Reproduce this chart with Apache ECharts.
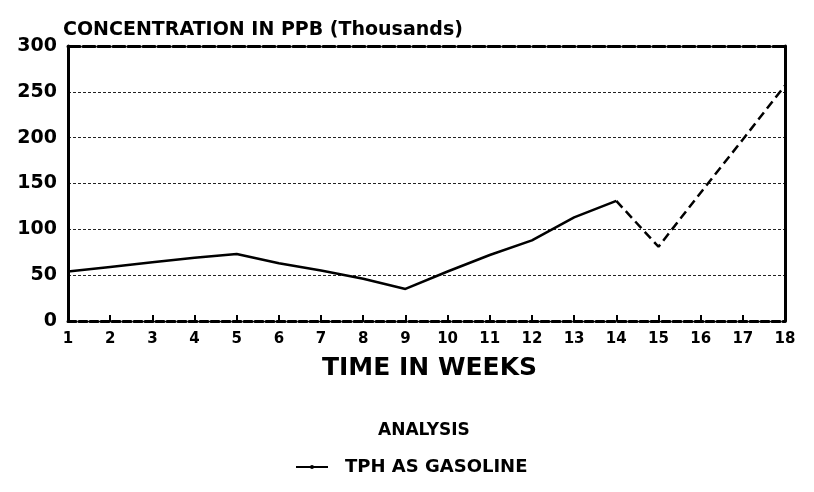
<!DOCTYPE html>
<html>
<head>
<meta charset="utf-8">
<script src="https://cdn.jsdelivr.net/npm/echarts@6/dist/echarts.min.js"></script>
<style>html,body{margin:0;padding:0;background:#fff;}#c{width:814px;height:492px;}</style>
</head>
<body>
<div id="c"></div>
<script>
var weeks = [1,2,3,4,5,6,7,8,9,10,11,12,13,14,15,16,17,18];
var tphValues = [54,59,64,69,73,63,55,46,35,54,72,88,113,131,81,140,198,257];
var yTicks = [0,50,100,150,200,250,300];
var seriesName = 'TPH AS GASOLINE';
var solidEndWeek = 14;

var solidData = [], dashedData = [];
weeks.forEach(function(w, i){
  if (w <= solidEndWeek) solidData.push([w, tphValues[i]]);
  if (w >= solidEndWeek) dashedData.push([w, tphValues[i]]);
});

var FONT = '"DejaVu Sans", "Liberation Sans", Arial, sans-serif';
var chart = echarts.init(document.getElementById('c'), null, {renderer:'canvas'});
chart.setOption({
  backgroundColor: '#fff',
  animation: false,
  grid: {left: 68, right: 29, top: 46, bottom: 171, containLabel: false},
  title: [
    {text: 'CONCENTRATION IN PPB (Thousands)', left: 63, top: 21, padding: 0,
     textStyle: {fontFamily: FONT, fontWeight: 'bold', fontSize: 19, color: '#000'}},
    {text: 'TIME IN WEEKS', left: 322, top: 356, padding: 0,
     textStyle: {fontFamily: FONT, fontWeight: 'bold', fontSize: 25, color: '#000'}},
    {text: 'ANALYSIS', left: 378, top: 422, padding: 0,
     textStyle: {fontFamily: FONT, fontWeight: 'bold', fontSize: 17, color: '#000'}}
  ],
  legend: {
    top: 458, left: 295, padding: 0,
    itemWidth: 32, itemHeight: 5,
    data: [seriesName],
    textStyle: {fontFamily: FONT, fontWeight: 'bold', fontSize: 18, color: '#000', padding: [0,0,0,12]}
  },
  xAxis: [
    {type: 'value', min: 1, max: 18, interval: 1, position: 'bottom',
     axisLine: {show: true, onZero: false, lineStyle: {color: '#000', width: 3, type: [8, 3]}},
     axisTick: {show: true, inside: true, length: 6, lineStyle: {color: '#000', width: 2}},
     axisLabel: {fontFamily: FONT, fontWeight: 'bold', fontSize: 15, color: '#000', margin: 11},
     splitLine: {show: false}},
    {type: 'value', min: 1, max: 18, interval: 1, position: 'top',
     axisLine: {show: true, onZero: false, lineStyle: {color: '#000', width: 3, type: [12, 3]}},
     axisTick: {show: false}, axisLabel: {show: false}, splitLine: {show: false}}
  ],
  yAxis: [
    {type: 'value', min: 0, max: 300, interval: 50, position: 'left',
     axisLine: {show: true, onZero: false, lineStyle: {color: '#000', width: 3}},
     axisTick: {show: false},
     axisLabel: {fontFamily: FONT, fontWeight: 'bold', fontSize: 19, color: '#000', margin: 11,
       formatter: function(v){ return yTicks.indexOf(v) >= 0 ? String(v) : ''; }},
     splitLine: {show: true, lineStyle: {color: '#222', width: 1, type: [3, 2]}}},
    {type: 'value', min: 0, max: 300, interval: 50, position: 'right',
     axisLine: {show: true, onZero: false, lineStyle: {color: '#000', width: 3}},
     axisTick: {show: false}, axisLabel: {show: false}, splitLine: {show: false}}
  ],
  series: [
    {name: seriesName, type: 'line', data: solidData, symbol: 'none',
     lineStyle: {color: '#000', width: 2.5}, itemStyle: {color: '#000'}},
    {name: seriesName, type: 'line', data: dashedData, symbol: 'none',
     lineStyle: {color: '#000', width: 2.5, type: [9, 5]}, itemStyle: {color: '#000'}}
  ]
});
</script>
</body>
</html>
